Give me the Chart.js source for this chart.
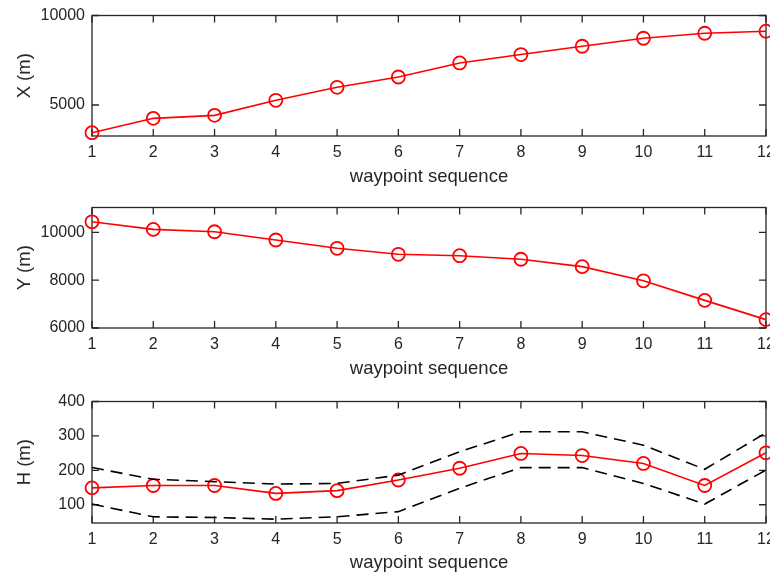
<!DOCTYPE html>
<html>
<head>
<meta charset="utf-8">
<script src="https://cdn.jsdelivr.net/npm/chart.js@4.4.1/dist/chart.umd.min.js"></script>
<style>
  body { margin: 0; background: #fff; }
  canvas { position: absolute; left: 0; }
</style>
</head>
<body>
<canvas id="panelX" width="770" height="192" style="top:0px"></canvas>
<canvas id="panelY" width="770" height="192" style="top:192px"></canvas>
<canvas id="panelH" width="770" height="189" style="top:386px"></canvas>
<script>
// waypoint positions along the route
const waypoints = [1, 2, 3, 4, 5, 6, 7, 8, 9, 10, 11, 12];
const posX = [3456, 4256, 4424, 5263, 5990, 6566, 7350, 7820, 8283, 8730, 9010, 9122];
const posY = [10442, 10125, 10025, 9680, 9333, 9083, 9025, 8875, 8567, 7975, 7155, 6350];
const posH = [149, 156, 156, 133, 141, 172, 206, 249, 243, 220, 156, 251];
const hUpper = [208, 174, 167, 160, 162, 186, 254, 312, 312, 273, 203, 309];
const hLower = [102, 65, 63, 58, 65, 80, 148, 208, 208, 162, 102, 201];

const xTicks = [5000, 10000];
const yTicks = [6000, 8000, 10000];
const hTicks = [100, 200, 300, 400];

const ink = '#262626';
const fontFamily = '"Liberation Sans", Arial, Helvetica, sans-serif';

// box around the plot area with inward tick marks on all four sides
const boxTicks = {
  id: 'boxTicks',
  beforeDatasetsDraw(chart) {
    const { ctx, chartArea: a, scales } = chart;
    const len = 7;
    ctx.save();
    ctx.strokeStyle = ink;
    ctx.lineWidth = 1.3;
    ctx.beginPath();
    scales.x.ticks.forEach((t, i) => {
      const px = scales.x.getPixelForTick(i);
      ctx.moveTo(px, a.bottom); ctx.lineTo(px, a.bottom - len);
      ctx.moveTo(px, a.top); ctx.lineTo(px, a.top + len);
    });
    scales.y.ticks.forEach(t => {
      const py = scales.y.getPixelForValue(t.value);
      ctx.moveTo(a.left, py); ctx.lineTo(a.left + len, py);
      ctx.moveTo(a.right, py); ctx.lineTo(a.right - len, py);
    });
    ctx.stroke();
    ctx.strokeRect(a.left, a.top, a.right - a.left, a.bottom - a.top);
    ctx.restore();
  }
};

function redLine(values) {
  return {
    data: values,
    borderColor: '#ff0000',
    borderWidth: 1.6,
    pointRadius: 6.5,
    pointBorderWidth: 1.8,
    pointBorderColor: '#ff0000',
    pointBackgroundColor: 'rgba(0,0,0,0)',
    tension: 0,
    clip: false
  };
}

function dashedLine(values) {
  return {
    data: values,
    borderColor: '#000000',
    borderWidth: 1.6,
    borderDash: [12, 7],
    pointRadius: 0,
    tension: 0,
    clip: false
  };
}

function makePanel(id, yLabel, datasets, yMin, yMax, yTickValues, axisHeight, titleGap) {
  return new Chart(document.getElementById(id), {
    type: 'line',
    data: { labels: waypoints, datasets: datasets },
    plugins: [boxTicks],
    options: {
      responsive: false,
      animation: false,
      devicePixelRatio: 1,
      layout: { autoPadding: false, padding: { top: 15.5, right: 4, left: 0, bottom: 0 } },
      plugins: { legend: { display: false }, tooltip: { enabled: false } },
      scales: {
        x: {
          type: 'category',
          offset: false,
          grid: { display: false, drawTicks: false },
          border: { display: false },
          ticks: { color: ink, font: { family: fontFamily, size: 16 }, padding: 7, maxRotation: 0, autoSkip: false },
          title: {
            display: true, text: 'waypoint sequence', color: ink,
            font: { family: fontFamily, size: 18.5 }, padding: { top: 0, bottom: titleGap }
          },
          afterFit(scale) {
            scale.height = axisHeight;
            scale.paddingLeft = 0;
            scale.paddingRight = 0;
          }
        },
        y: {
          min: yMin,
          max: yMax,
          grid: { display: false, drawTicks: false },
          border: { display: false },
          afterBuildTicks(scale) { scale.ticks = yTickValues.map(v => ({ value: v })); },
          ticks: {
            color: ink, font: { family: fontFamily, size: 16 }, padding: 7,
            callback: v => String(v)
          },
          title: {
            display: true, text: yLabel, color: ink,
            font: { family: fontFamily, size: 18.5 }, padding: { top: 14, bottom: 0 }
          },
          afterFit(scale) {
            scale.width = 92;
            scale.paddingTop = 0;
            scale.paddingBottom = 0;
          }
        }
      }
    }
  });
}

makePanel('panelX', 'X (m)', [redLine(posX)], 3270, 10000, xTicks, 56, 4);
makePanel('panelY', 'Y (m)', [redLine(posY)], 6000, 11040, yTicks, 56, 4);
makePanel('panelH', 'H (m)', [dashedLine(hUpper), dashedLine(hLower), redLine(posH)], 47, 400, hTicks, 52, 1);
</script>
</body>
</html>
